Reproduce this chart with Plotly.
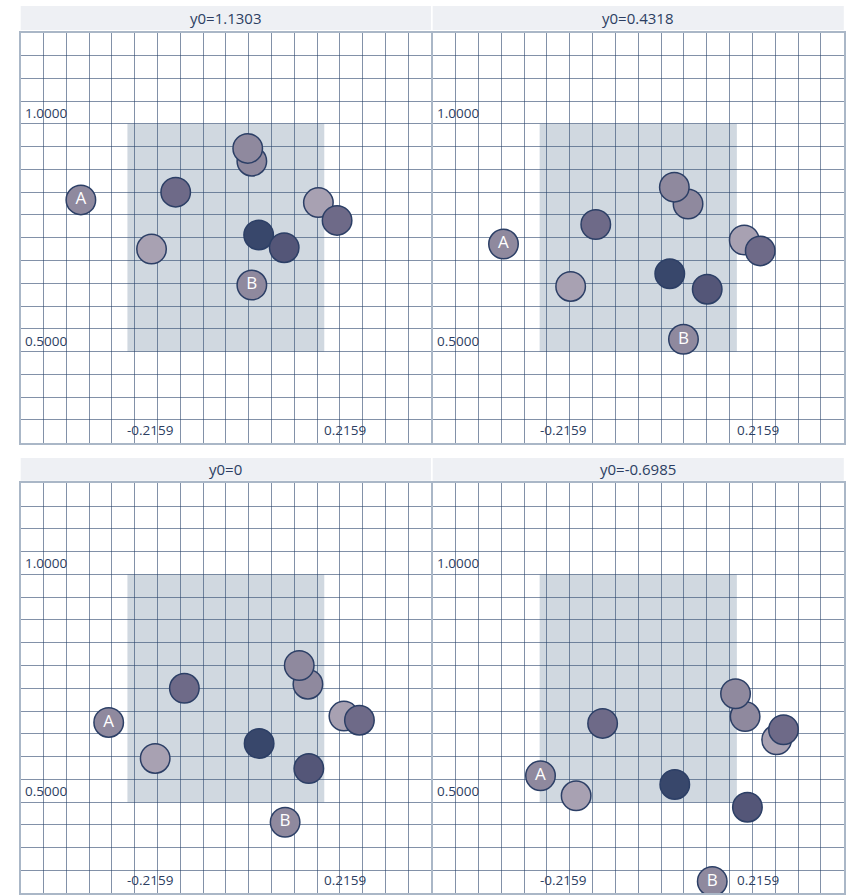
import plotly.graph_objects as go

# ---- data -------------------------------------------------------------
panel_titles = ["y0=1.1303", "y0=0.4318", "y0=0", "y0=-0.6985"]

point_labels = ["", "", "", "", "", "", "", "", "A", "B"]
point_colors = ["#a8a1b2", "#6e6a88", "#8f899e", "#8f899e", "#a8a1b2",
                "#6e6a88", "#38476b", "#545678", "#8f899e", "#8f899e"]

x_p1 = [-0.163, -0.110, 0.057, 0.048, 0.203, 0.244, 0.072, 0.128, -0.318, 0.057]
y_p1 = [0.725, 0.850, 0.918, 0.946, 0.827, 0.788, 0.756, 0.728, 0.833, 0.646]

x_p2 = [-0.148, -0.093, 0.109, 0.079, 0.232, 0.267, 0.069, 0.151, -0.295, 0.099]
y_p2 = [0.643, 0.779, 0.824, 0.861, 0.745, 0.721, 0.671, 0.637, 0.736, 0.527]

x_p3 = [-0.155, -0.091, 0.180, 0.161, 0.259, 0.293, 0.073, 0.182, -0.257, 0.130]
y_p3 = [0.596, 0.750, 0.759, 0.800, 0.689, 0.680, 0.629, 0.574, 0.675, 0.456]

x_p4 = [-0.136, -0.078, 0.234, 0.213, 0.303, 0.318, 0.080, 0.239, -0.214, 0.162]
y_p4 = [0.514, 0.673, 0.688, 0.738, 0.637, 0.659, 0.539, 0.489, 0.558, 0.326]

panel_x = [x_p1, x_p2, x_p3, x_p4]
panel_y = [y_p1, y_p2, y_p3, y_p4]

box_x = [-0.2159, 0.2159]
box_y = [0.5, 1.0]
x_tick_vals = [-0.2159, 0.2159]
y_tick_vals = [1.0, 0.5]

x_range = [-0.45, 0.45]
y_range = [0.3, 1.2]

# ---- layout geometry --------------------------------------------------
W, H = 856, 895
col_dom = [[20.7 / W, 431.0 / W], [432.7 / W, 843.8 / W]]
row_dom = [[1 - 442.7 / H, 1 - 32.7 / H], [1 - 893.3 / H, 1 - 483.3 / H]]
head_dom = [[1 - 30.0 / H, 1 - 6.0 / H], [1 - 480.7 / H, 1 - 458.0 / H]]

navy = "#2c3e62"
font_family = "Open Sans, Noto Sans, sans-serif"

fig = go.Figure()
shapes = []
annotations = []
layout_axes = {}

for i in range(4):
    r, c = divmod(i, 2)
    n = i + 1
    xa = "x" if n == 1 else f"x{n}"
    ya = "y" if n == 1 else f"y{n}"
    xkey = "xaxis" if n == 1 else f"xaxis{n}"
    ykey = "yaxis" if n == 1 else f"yaxis{n}"

    axis_common = dict(
        showgrid=True, gridcolor="rgba(40,65,105,0.58)", gridwidth=1.3,
        dtick=0.05, tick0=0, showticklabels=False, ticks="",
        zeroline=False, showline=True, linecolor="#aab7c7", linewidth=2,
        mirror=True, fixedrange=True,
    )
    layout_axes[xkey] = dict(axis_common, domain=col_dom[c], range=x_range, anchor=ya)
    layout_axes[ykey] = dict(axis_common, domain=row_dom[r], range=y_range, anchor=xa)

    # shaded region
    shapes.append(dict(type="rect", xref=xa, yref=ya,
                       x0=box_x[0], x1=box_x[1], y0=box_y[0], y1=box_y[1],
                       fillcolor="#d0d8e0", line=dict(width=0), layer="below"))
    # header strip
    shapes.append(dict(type="rect", xref="paper", yref="paper",
                       x0=col_dom[c][0], x1=col_dom[c][1],
                       y0=head_dom[r][0], y1=head_dom[r][1],
                       fillcolor="#eef0f4", line=dict(width=0), layer="below"))
    annotations.append(dict(text=panel_titles[i], xref="paper", yref="paper",
                            x=(col_dom[c][0] + col_dom[c][1]) / 2,
                            y=(head_dom[r][0] + head_dom[r][1]) / 2,
                            xanchor="center", yanchor="middle", showarrow=False,
                            font=dict(family=font_family, size=15, color=navy)))
    # axis labels inside the plot
    for yv in y_tick_vals:
        annotations.append(dict(text=f"{yv:.4f}", xref=xa, yref=ya,
                                x=x_range[0], y=yv, xanchor="left", yanchor="bottom",
                                xshift=2, yshift=0, showarrow=False,
                                font=dict(family=font_family, size=13.5, color=navy)))
    for xv in x_tick_vals:
        annotations.append(dict(text=f"{xv:.4f}", xref=xa, yref=ya,
                                x=xv, y=y_range[0], xanchor="left", yanchor="bottom",
                                xshift=-2, yshift=2, showarrow=False,
                                font=dict(family=font_family, size=13.5, color=navy)))

    fig.add_trace(go.Scatter(
        x=panel_x[i], y=panel_y[i], xaxis=xa, yaxis=ya,
        mode="markers+text", text=point_labels, textposition="middle center",
        textfont=dict(family=font_family, size=17, color="white"),
        marker=dict(size=29.5, color=point_colors,
                    line=dict(color="#2c3f66", width=1.5), opacity=1),
        cliponaxis=False, showlegend=False, hoverinfo="skip",
    ))

fig.update_layout(
    width=W, height=H,
    margin=dict(l=0, r=0, t=0, b=0),
    paper_bgcolor="white", plot_bgcolor="white",
    shapes=shapes, annotations=annotations,
    font=dict(family=font_family, color=navy),
    **layout_axes,
)

fig.write_html("out.html")
